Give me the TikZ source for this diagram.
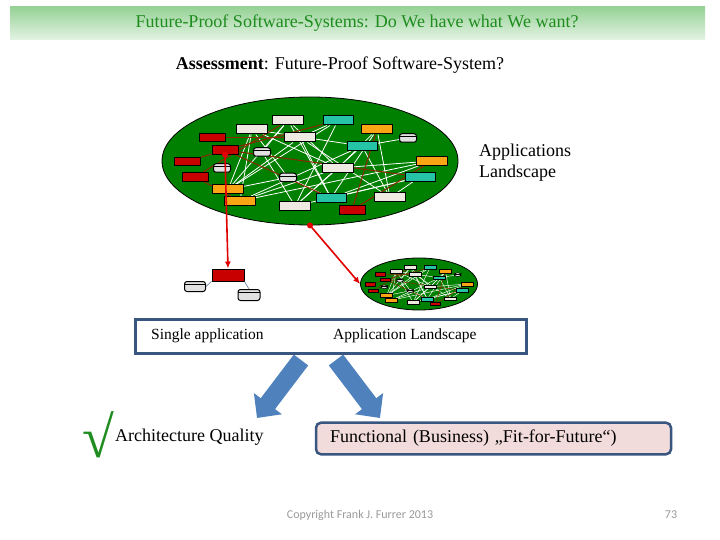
\documentclass[tikz,border=0pt]{standalone}
\usepackage{fontspec}
\setmainfont{Liberation Serif}
\newfontfamily\carlito{Carlito}
\usetikzlibrary{shapes.geometric,arrows.meta}
\pgfdeclarelayer{back}
\pgfdeclarelayer{mid}
\pgfsetlayers{back,mid,main}
\definecolor{cred}{RGB}{200,0,0}
\definecolor{cwhite}{RGB}{238,234,226}
\definecolor{ccyan}{RGB}{38,196,166}
\definecolor{corange}{RGB}{250,165,20}
\definecolor{landgreen}{RGB}{0,128,0}
\definecolor{brownline}{RGB}{140,40,0}
\definecolor{arrowblue}{RGB}{79,129,189}
\definecolor{frameblue}{RGB}{56,86,128}
\definecolor{pinkfill}{RGB}{242,220,219}
\definecolor{titlegreen}{RGB}{30,140,30}
\definecolor{linkred}{RGB}{225,0,0}
\definecolor{cylgray}{RGB}{225,225,225}
\definecolor{bartop}{RGB}{150,210,150}
\definecolor{barbot}{RGB}{228,243,228}
\newcommand{\landnet}{%
  \node[bw] (B1) at (288,120.5) {};
  \node[bw] (B2) at (252,129.5) {};
  \node[bc] (B3) at (338,120.5) {};
  \node[bo] (B4) at (377,129.5) {};
  \node[br] (B5) at (212,137.5) {};
  \node[bw] (B6) at (300,137.5) {};
  \node[cyl] (C1) at (408,138) {};
  \node[br] (B7) at (225,150) {};
  \node[bc] (B8) at (362,146) {};
  \node[cyl] (C2) at (262,152) {};
  \node[br] (B9) at (187,161.5) {};
  \node[bo] (B10) at (432,161) {};
  \node[cyl] (C3) at (222,168) {};
  \node[bw] (B11) at (338,168) {};
  \node[br] (B12) at (195,177) {};
  \node[cyl] (C4) at (288,177.5) {};
  \node[bc] (B13) at (420,177) {};
  \node[bo] (B14) at (228,189.5) {};
  \node[bo] (B15) at (240,201) {};
  \node[bc] (B16) at (331,198) {};
  \node[bw] (B17) at (390,197.5) {};
  \node[bw] (B18) at (295,206) {};
  \node[br] (B19) at (352,210) {};
  \begin{pgfonlayer}{mid}
    \foreach \a/\b in {B2/B14,B2/B15,B2/B11,B2/C4,B1/B14,B1/B11,B1/B16,B1/C2,
      B3/B6,B3/B14,B3/B18,B4/B17,B4/B11,B4/B16,B8/B15,B8/B18,B8/B17,B8/B2,
      B10/B15,B10/B11,B10/B16,B13/B17,B13/B18,B6/B17,B6/B16,C4/B16,C4/B14,
      B11/B15,B11/B18,C2/B18,B6/B14,C1/B8,B13/B16}
      {\draw[wl] (\a) -- (\b);}
    \foreach \a/\b in {B5/B6,B7/B3,B9/B7,B7/B13,B12/B1,B7/B16,B19/B4,B19/B10,B12/B15}
      {\draw[bl] (\a) -- (\b);}
  \end{pgfonlayer}%
}
\begin{document}
\begin{tikzpicture}[x=1pt,y=-1pt,
  boxline/.style={line width=1pt},
  bx/.style={draw=black, boxline, rectangle, inner sep=0pt},
  bw/.style={bx, fill=cwhite, minimum width=31pt, minimum height=9pt},
  bc/.style={bx, fill=ccyan, minimum width=30pt, minimum height=9pt},
  bo/.style={bx, fill=corange, minimum width=31pt, minimum height=9pt},
  br/.style={bx, fill=cred, minimum width=26pt, minimum height=8.5pt},
  cyl/.style={bx, fill=cylgray, rounded corners=2.5pt, minimum width=17pt, minimum height=8.5pt,
    path picture={\draw[black, line width=1pt] ([yshift=-2.8pt]path picture bounding box.north west) -- ([yshift=-2.8pt]path picture bounding box.north east);}},
  wl/.style={white, line width=0.8pt},
  bl/.style={brownline, line width=1pt},
  land/.style={ellipse, draw=black, line width=0.8pt, fill=landgreen, inner sep=0pt},
  redlink/.style={linkred, line width=1.6pt, -{Latex[length=7pt,width=6pt]}},
  blockarrow/.style={arrowblue, line width=18pt, -{Triangle[length=18pt,width=34pt]}},
  lbl/.style={font=\fontsize{15.5}{18}\selectfont, inner sep=0pt, anchor=west},
  big/.style={font=\fontsize{18}{21}\selectfont, inner sep=0pt}
]
\useasboundingbox (0,0) rectangle (720,540);
% title bar
\shade[top color=bartop, bottom color=barbot] (10,7) rectangle (705,40);
\node[big, text=titlegreen] (title) at (357,23) {Future-Proof Software-Systems: Do We have what We want?};
\node[big] (assess) at (340,65) {\textbf{Assessment}: Future-Proof Software-System?};
% big landscape
\begin{pgfonlayer}{back}
\node[land, minimum width=296pt, minimum height=128pt] (bigland) at (310,161) {};
\node[land, minimum width=117pt, minimum height=52pt] (miniland) at (419,284) {};
\end{pgfonlayer}
\landnet
\node[big, anchor=north west, align=left] (applab) at (479,144) {Applications\\Landscape};
% mini landscape
\begin{scope}[name prefix=m, shift={(419,284)}, xscale=0.395, yscale=0.406, shift={(-310,-161)}, transform shape,
  boxline/.style={line width=0.5pt}, wl/.style={white, line width=0.45pt}, bl/.style={brownline, line width=0.5pt}]
\landnet
\end{scope}
% single application
\node[bx, fill=cred, minimum width=32pt, minimum height=12pt] (single) at (228,275) {};
\node[cyl, minimum width=21pt, minimum height=10pt] (sc1) at (195,286.5) {};
\node[cyl, minimum width=22pt, minimum height=11pt] (sc2) at (249,295) {};
\draw[line width=0.7pt, frameblue!70] (single.south west) -- (sc1.east);
\draw[line width=0.7pt, frameblue!70] (single.south east) -- (sc2.north);
% red links
\fill[linkred] (B7.south) circle (3pt);
\draw[redlink] (B7.south) -- (single.north);
\fill[linkred] (bigland.south) circle (3pt);
\draw[redlink] (bigland.south) -- (miniland.west);
% frame
\node[draw=frameblue, line width=2.5pt, fill=white, minimum width=391pt, minimum height=34pt, inner sep=0pt] (frame) at (331,336.3) {};
\node[lbl] (sa) at (151,336) {Single application};
\node[lbl] (al) at (333,336) {Application Landscape};
% block arrows
\begin{pgfonlayer}{mid}
\coordinate (a1s) at (301,360);
\coordinate (a1e) at (257,418);
\coordinate (a2s) at (336,360);
\coordinate (a2e) at (380,418);
\draw[blockarrow] (a1s) -- (a1e);
\draw[blockarrow] (a2s) -- (a2e);
\end{pgfonlayer}
% results
\node[text=titlegreen, inner sep=0pt, font=\fontsize{58}{58}\selectfont] (check) at (98,435) {√};
\node[big, anchor=west] (aq) at (115,437) {Architecture Quality};
\node[draw=frameblue, line width=2.5pt, fill=pinkfill, rounded corners=5pt,
  minimum width=355pt, minimum height=31.6pt, text width=327pt, align=left, inner xsep=14pt,
  font=\fontsize{18}{21}\selectfont] (fb) at (493.5,438.5) {Functional (Business) „Fit-for-Future“)};
% footer
\node[font=\carlito\fontsize{12}{14}\selectfont, text=gray!80, inner sep=0pt] (copy) at (360,515) {Copyright Frank J. Furrer 2013};
\node[font=\carlito\fontsize{12}{14}\selectfont, text=gray!80, inner sep=0pt] (pnum) at (671,515) {73};
\end{tikzpicture}
\end{document}
